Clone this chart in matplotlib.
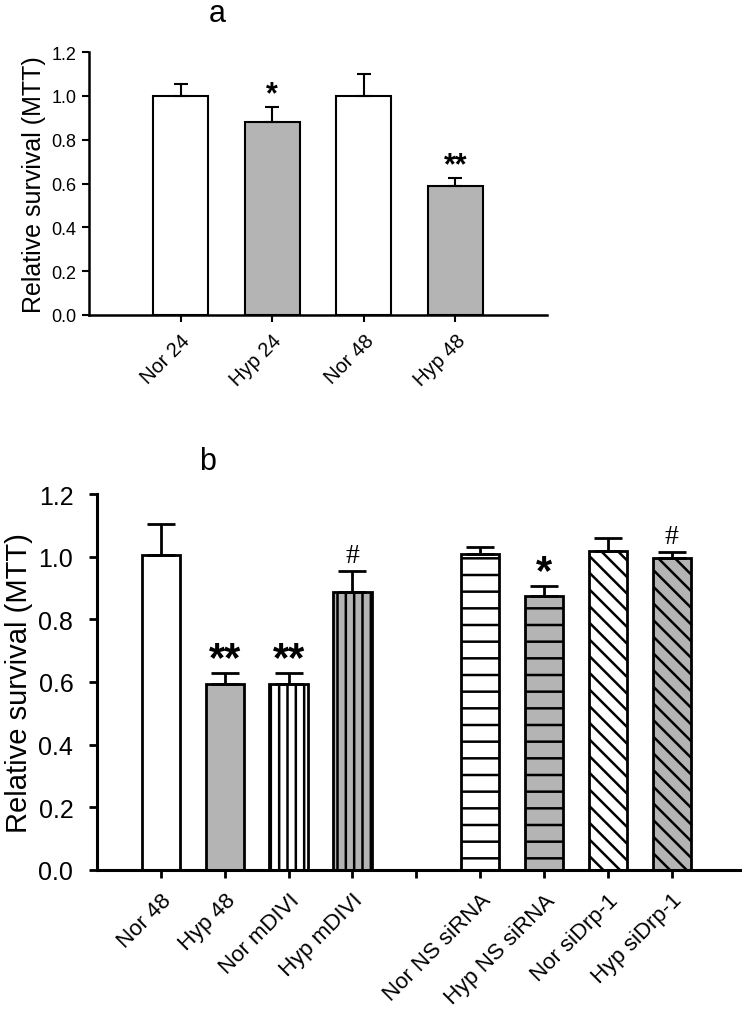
import matplotlib
matplotlib.use('Agg')
import matplotlib.pyplot as plt
import numpy as np

plt.rcParams['font.family'] = ['Liberation Sans', 'DejaVu Sans']
plt.rcParams['hatch.linewidth'] = 1.8

GRAY = '#b4b4b4'

# panel a
a_labels = ['Nor 24', 'Hyp 24', 'Nor 48', 'Hyp 48']
a_values = [1.0, 0.882, 1.0, 0.587]
a_err = [0.052, 0.068, 0.098, 0.038]
a_colors = ['white', GRAY, 'white', GRAY]
a_marks = ['', '*', '', '**']

# panel b
b_labels = ['Nor 48', 'Hyp 48', 'Nor mDIVI', 'Hyp mDIVI', '',
            'Nor NS siRNA', 'Hyp NS siRNA', 'Nor siDrp-1', 'Hyp siDrp-1']
b_pos = [1, 2, 3, 4, 6, 7, 8, 9]
b_values = [1.004, 0.592, 0.592, 0.886, 1.007, 0.875, 1.017, 0.996]
b_err = [0.099, 0.038, 0.038, 0.067, 0.024, 0.032, 0.044, 0.018]
b_colors = ['white', GRAY, 'white', GRAY, 'white', GRAY, 'white', GRAY]
b_hatches = ['', '', '||', '||', '-', '-', '\\\\', '\\\\']
b_marks = ['', '**', '**', '#', '', '*', '', '#']

fig = plt.figure(figsize=(7.42, 10.2), dpi=100)

# ---- panel a ----
ax1 = fig.add_axes([0.1199, 0.6902, 0.6173, 0.2578])
x1 = np.arange(1, len(a_labels) + 1)
ax1.bar(x1, a_values, width=0.6, color=a_colors, edgecolor='black', linewidth=1.5,
        yerr=[np.zeros(len(a_err)), a_err], capsize=5,
        error_kw=dict(elinewidth=1.5, capthick=1.5, ecolor='black'))
for xi, v, e, m in zip(x1, a_values, a_err, a_marks):
    if m:
        ax1.text(xi, v + e - 0.01, m, ha='center', va='bottom', fontsize=22,
                 fontweight='bold')
ax1.set_xlim(0, 5)
ax1.set_ylim(0, 1.2)
ax1.set_yticks(np.arange(0, 1.21, 0.2))
ax1.set_yticklabels([f'{t:.1f}' for t in np.arange(0, 1.21, 0.2)], fontsize=13)
ax1.set_xticks(x1)
ax1.set_xticklabels(a_labels, fontsize=14.5, rotation=45, ha='right', rotation_mode='anchor')
ax1.tick_params(axis='both', direction='out', length=5, width=1.5, pad=4)
ax1.tick_params(axis='x', pad=6)
ax1.set_ylabel('Relative survival (MTT)', fontsize=18, labelpad=4)
for s in ['top', 'right']:
    ax1.spines[s].set_visible(False)
for s in ['left', 'bottom']:
    ax1.spines[s].set_linewidth(1.8)
fig.text(217 / 742, 1 - 14 / 1020, 'a', fontsize=22, ha='center', va='center')

# ---- panel b ----
ax2 = fig.add_axes([0.1307, 0.1461, 0.8693, 0.3686])
ax2.bar(b_pos, b_values, width=0.6, color=b_colors, edgecolor='black', linewidth=2,
        hatch=b_hatches,
        yerr=[np.zeros(len(b_err)), b_err], capsize=10,
        error_kw=dict(elinewidth=2, capthick=2, ecolor='black'))
for xi, v, e, m in zip(b_pos, b_values, b_err, b_marks):
    if m == '#':
        ax2.text(xi, v + e + 0.01, m, ha='center', va='bottom', fontsize=20,
                 family='Liberation Serif')
    elif m:
        ax2.text(xi, v + e - 0.02, m, ha='center', va='bottom', fontsize=30,
                 fontweight='bold')
ax2.set_xlim(0, 10.1)
ax2.set_ylim(0, 1.2)
ax2.set_yticks(np.arange(0, 1.21, 0.2))
ax2.set_yticklabels([f'{t:.1f}' for t in np.arange(0, 1.21, 0.2)], fontsize=18)
ax2.set_xticks(np.arange(1, 10))
ax2.set_xticklabels(b_labels, fontsize=16, rotation=45, ha='right', rotation_mode='anchor')
ax2.tick_params(axis='both', direction='out', length=6, width=2)
ax2.tick_params(axis='y', pad=11)
ax2.tick_params(axis='x', pad=8)
ax2.set_ylabel('Relative survival (MTT)', fontsize=21, labelpad=4)
for s in ['top', 'right']:
    ax2.spines[s].set_visible(False)
for s in ['left', 'bottom']:
    ax2.spines[s].set_linewidth(2.2)
fig.text(208 / 742, 1 - 462 / 1020, 'b', fontsize=22, ha='center', va='center')

fig.savefig('out.png', dpi=100)
